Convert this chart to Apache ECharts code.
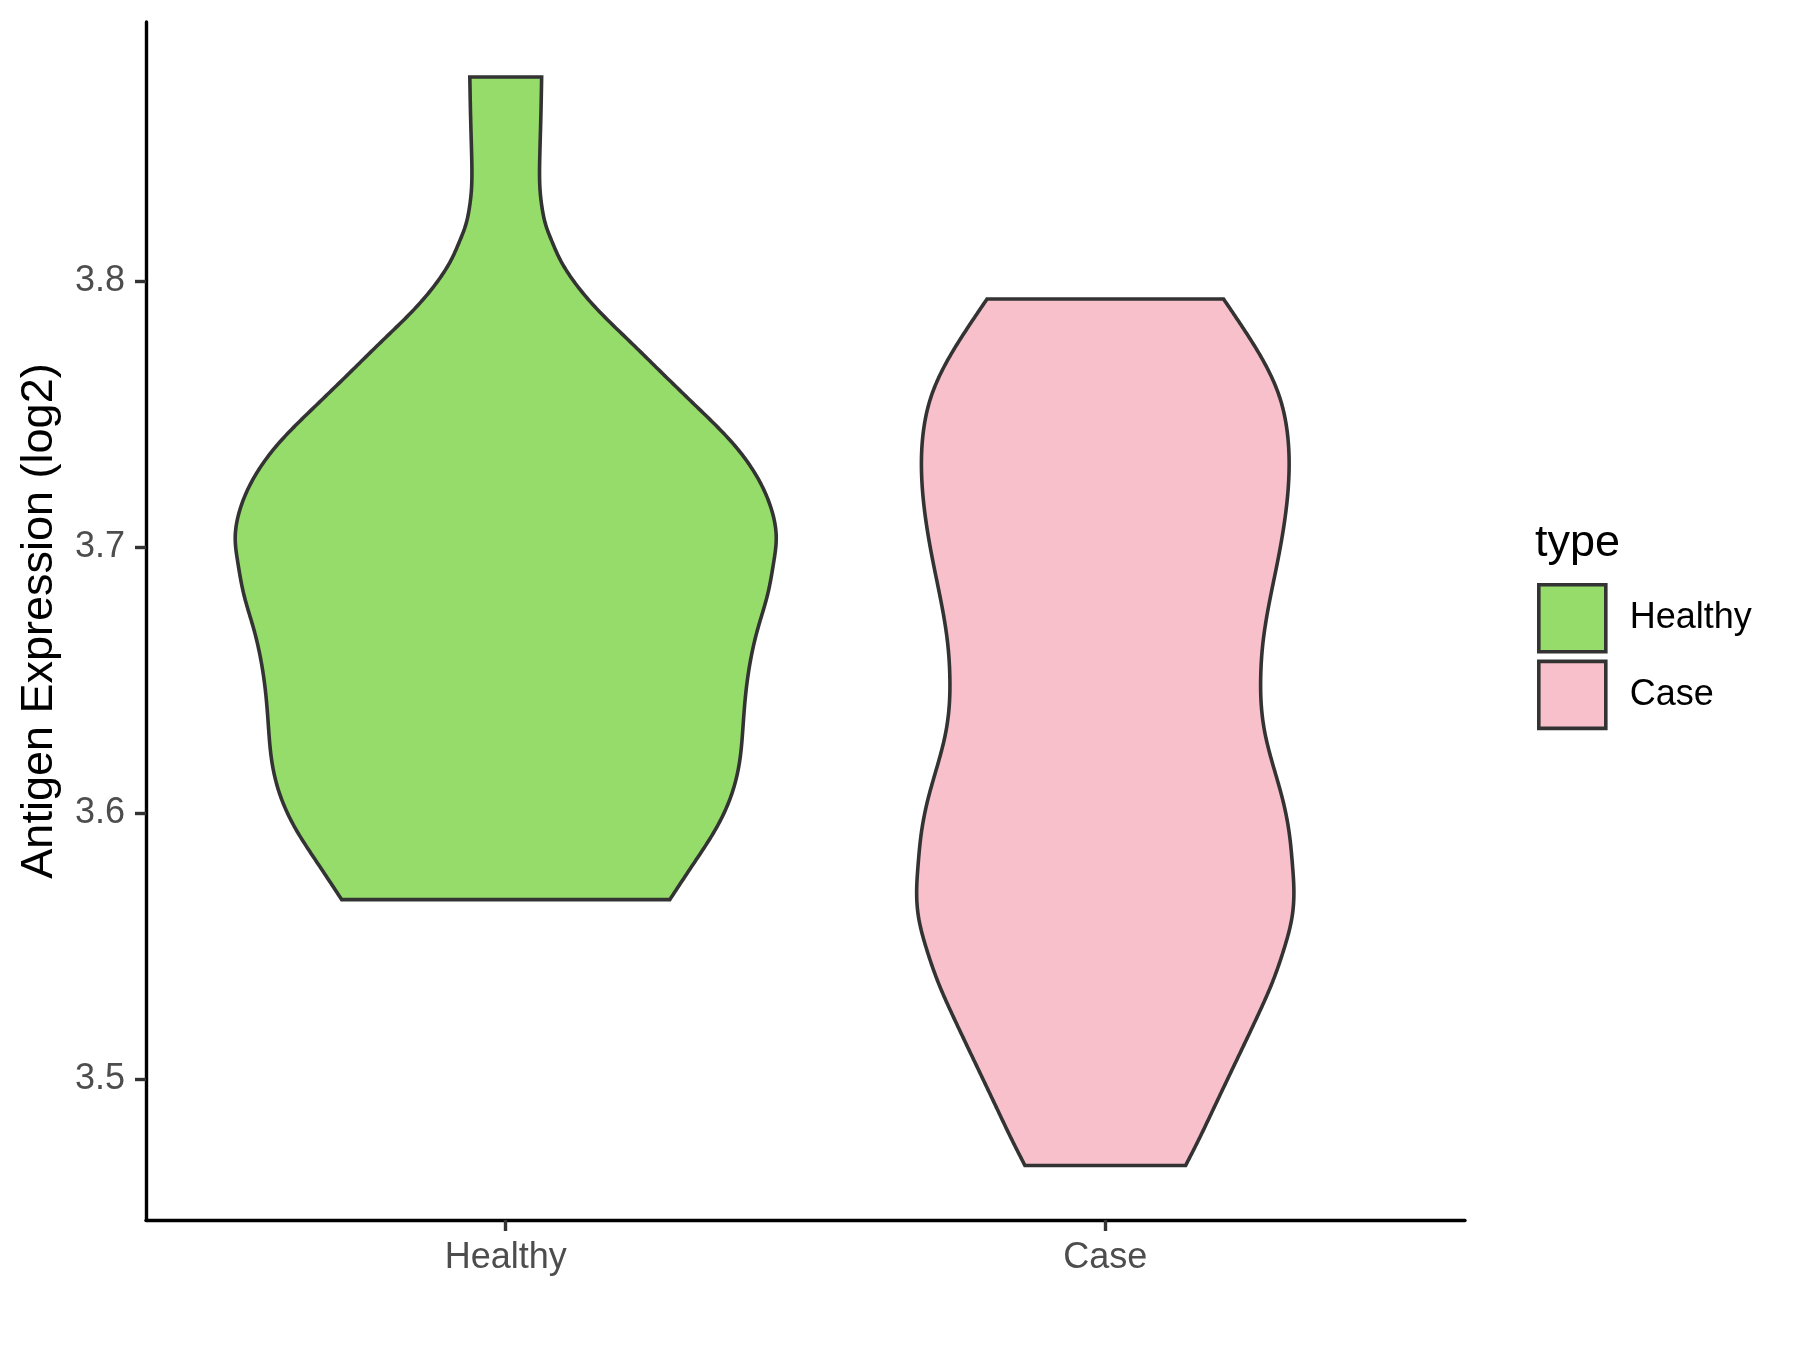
<!DOCTYPE html>
<html>
<head>
<meta charset="utf-8">
<script src="https://cdn.jsdelivr.net/npm/echarts@6/dist/echarts.min.js"></script>
<style>
html,body{margin:0;padding:0;background:#fff;}
#chart{width:1800px;height:1350px;}
</style>
</head>
<body>
<div id="chart"></div>
<script>
// ---- data ----
const categories = ['Healthy', 'Case'];
const categoryPositions = [1, 2];
const yTicks = [3.5, 3.6, 3.7, 3.8];

// Healthy violin: expression values (top -> bottom) and half-widths (in category units)
const healthyValues = [3.8768, 3.861, 3.846, 3.8335, 3.8272, 3.8209, 3.8147, 3.8084, 3.8021, 3.7896, 3.7772, 3.7645, 3.7520, 3.7396, 3.7269, 3.7144, 3.7031, 3.6944, 3.6818, 3.6692, 3.6568, 3.6442, 3.6316, 3.6192, 3.6065, 3.5940, 3.5816, 3.5674];
const healthyHalfWidths = [0.0599, 0.0585, 0.0567, 0.0575, 0.0609, 0.0671, 0.0776, 0.0901, 0.1069, 0.1520, 0.2077, 0.2651, 0.3223, 0.3765, 0.4180, 0.4429, 0.4512, 0.4470, 0.4364, 0.4203, 0.4078, 0.4000, 0.3955, 0.3900, 0.3760, 0.3504, 0.3153, 0.2736];

// Case violin
const caseValues = [3.7933, 3.7821, 3.7695, 3.7570, 3.7445, 3.7294, 3.7131, 3.6943, 3.6755, 3.6630, 3.6504, 3.6429, 3.6304, 3.6178, 3.6053, 3.5928, 3.5802, 3.5727, 3.5614, 3.5489, 3.5364, 3.5238, 3.5113, 3.4988, 3.4862, 3.4774, 3.4674];
const caseHalfWidths = [0.1973, 0.2307, 0.2649, 0.2899, 0.3028, 0.3066, 0.3011, 0.2872, 0.2706, 0.2625, 0.2592, 0.2596, 0.2660, 0.2800, 0.2956, 0.3066, 0.3123, 0.3144, 0.3119, 0.2982, 0.2789, 0.2544, 0.2282, 0.2017, 0.1752, 0.1565, 0.1340];

const fillColors = ['#95DC6A', '#F7C0CB'];
const FONT = '"Liberation Sans", Arial, Helvetica, sans-serif';

// Smooth outline: natural cubic spline of half-width vs value (rendering only)
function smoothOutline(values, widths, steps) {
  const x = values.slice().reverse();
  const y = widths.slice().reverse();
  const n = x.length;
  const h = [];
  for (let i = 0; i < n - 1; i++) h.push(x[i + 1] - x[i]);
  const a = new Array(n).fill(0), b = new Array(n).fill(1), c = new Array(n).fill(0), d = new Array(n).fill(0);
  for (let i = 1; i < n - 1; i++) {
    a[i] = h[i - 1];
    b[i] = 2 * (h[i - 1] + h[i]);
    c[i] = h[i];
    d[i] = 6 * ((y[i + 1] - y[i]) / h[i] - (y[i] - y[i - 1]) / h[i - 1]);
  }
  for (let i = 1; i < n; i++) {
    const w = a[i] / b[i - 1];
    b[i] -= w * c[i - 1];
    d[i] -= w * d[i - 1];
  }
  const M = new Array(n).fill(0);
  M[n - 1] = d[n - 1] / b[n - 1];
  for (let i = n - 2; i >= 0; i--) M[i] = (d[i] - c[i] * M[i + 1]) / b[i];
  M[0] = 0; M[n - 1] = 0;
  const out = [];
  for (let i = 0; i < n - 1; i++) {
    for (let s = 0; s < steps; s++) {
      const xv = x[i] + (s / steps) * h[i];
      const A = x[i + 1] - xv, B = xv - x[i];
      const w = M[i] * A * A * A / (6 * h[i]) + M[i + 1] * B * B * B / (6 * h[i]) +
                (y[i] / h[i] - M[i] * h[i] / 6) * A + (y[i + 1] / h[i] - M[i + 1] * h[i] / 6) * B;
      out.push([xv, w]);
    }
  }
  out.push([x[n - 1], y[n - 1]]);
  return out.reverse();
}

function violinRenderer(values, halfWidths, color) {
  const outline = smoothOutline(values, halfWidths, 16);
  return function (params, api) {
    const pos = api.value(0);
    const right = outline.map(p => api.coord([pos + p[1], p[0]]));
    const left = outline.map(p => api.coord([pos - p[1], p[0]])).reverse();
    return {
      type: 'polygon',
      shape: { points: right.concat(left) },
      style: { fill: color, stroke: '#333333', lineWidth: 3.6, lineJoin: 'miter' }
    };
  };
}

const chart = echarts.init(document.getElementById('chart'), null, { renderer: 'canvas' });
chart.setOption({
  backgroundColor: '#ffffff',
  animation: false,
  textStyle: { fontFamily: FONT },
  title: {
    text: 'type',
    left: 1535,
    top: 521,
    padding: 0,
    textStyle: { fontFamily: FONT, fontSize: 45, fontWeight: 'normal', color: '#000000' }
  },
  legend: {
    data: categories,
    orient: 'vertical',
    left: 1537,
    top: 583,
    padding: 0,
    itemWidth: 67,
    itemHeight: 67,
    itemGap: 6,
    icon: 'rect',
    itemStyle: { borderColor: '#333333', borderWidth: 3.6 },
    textStyle: { fontFamily: FONT, fontSize: 36, color: '#000000', padding: [0, 0, 0, 19] }
  },
  grid: { left: 146, right: 335, top: 22, bottom: 130, containLabel: false, outerBoundsMode: 'none' },
  xAxis: {
    type: 'value',
    min: 0.4,
    max: 2.6,
    splitLine: { show: false },
    axisLine: { show: true, onZero: false, lineStyle: { color: '#000000', width: 3.4 } },
    axisTick: { show: true, length: 11, customValues: categoryPositions, lineStyle: { color: '#333333', width: 3.4 } },
    axisLabel: {
      customValues: categoryPositions,
      formatter: v => categories[Math.round(v) - 1],
      fontFamily: FONT, fontSize: 36, color: '#4D4D4D', margin: 20
    }
  },
  yAxis: {
    type: 'value',
    min: 3.4469,
    max: 3.8975,
    name: 'Antigen Expression (log2)',
    nameLocation: 'middle',
    nameRotate: 90,
    nameGap: 84,
    nameTextStyle: { fontFamily: FONT, fontSize: 45, color: '#000000' },
    splitLine: { show: false },
    axisLine: { show: true, onZero: false, lineStyle: { color: '#000000', width: 3.4 } },
    axisTick: { show: true, length: 11, customValues: yTicks, lineStyle: { color: '#333333', width: 3.4 } },
    axisLabel: {
      customValues: yTicks,
      formatter: v => v.toFixed(1),
      fontFamily: FONT, fontSize: 36, color: '#4D4D4D', margin: 21
    }
  },
  series: [
    {
      name: 'Healthy',
      type: 'custom',
      itemStyle: { color: fillColors[0] },
      data: [[categoryPositions[0]]],
      encode: { x: 0 },
      renderItem: violinRenderer(healthyValues, healthyHalfWidths, fillColors[0])
    },
    {
      name: 'Case',
      type: 'custom',
      itemStyle: { color: fillColors[1] },
      data: [[categoryPositions[1]]],
      encode: { x: 0 },
      renderItem: violinRenderer(caseValues, caseHalfWidths, fillColors[1])
    }
  ]
});
</script>
</body>
</html>
